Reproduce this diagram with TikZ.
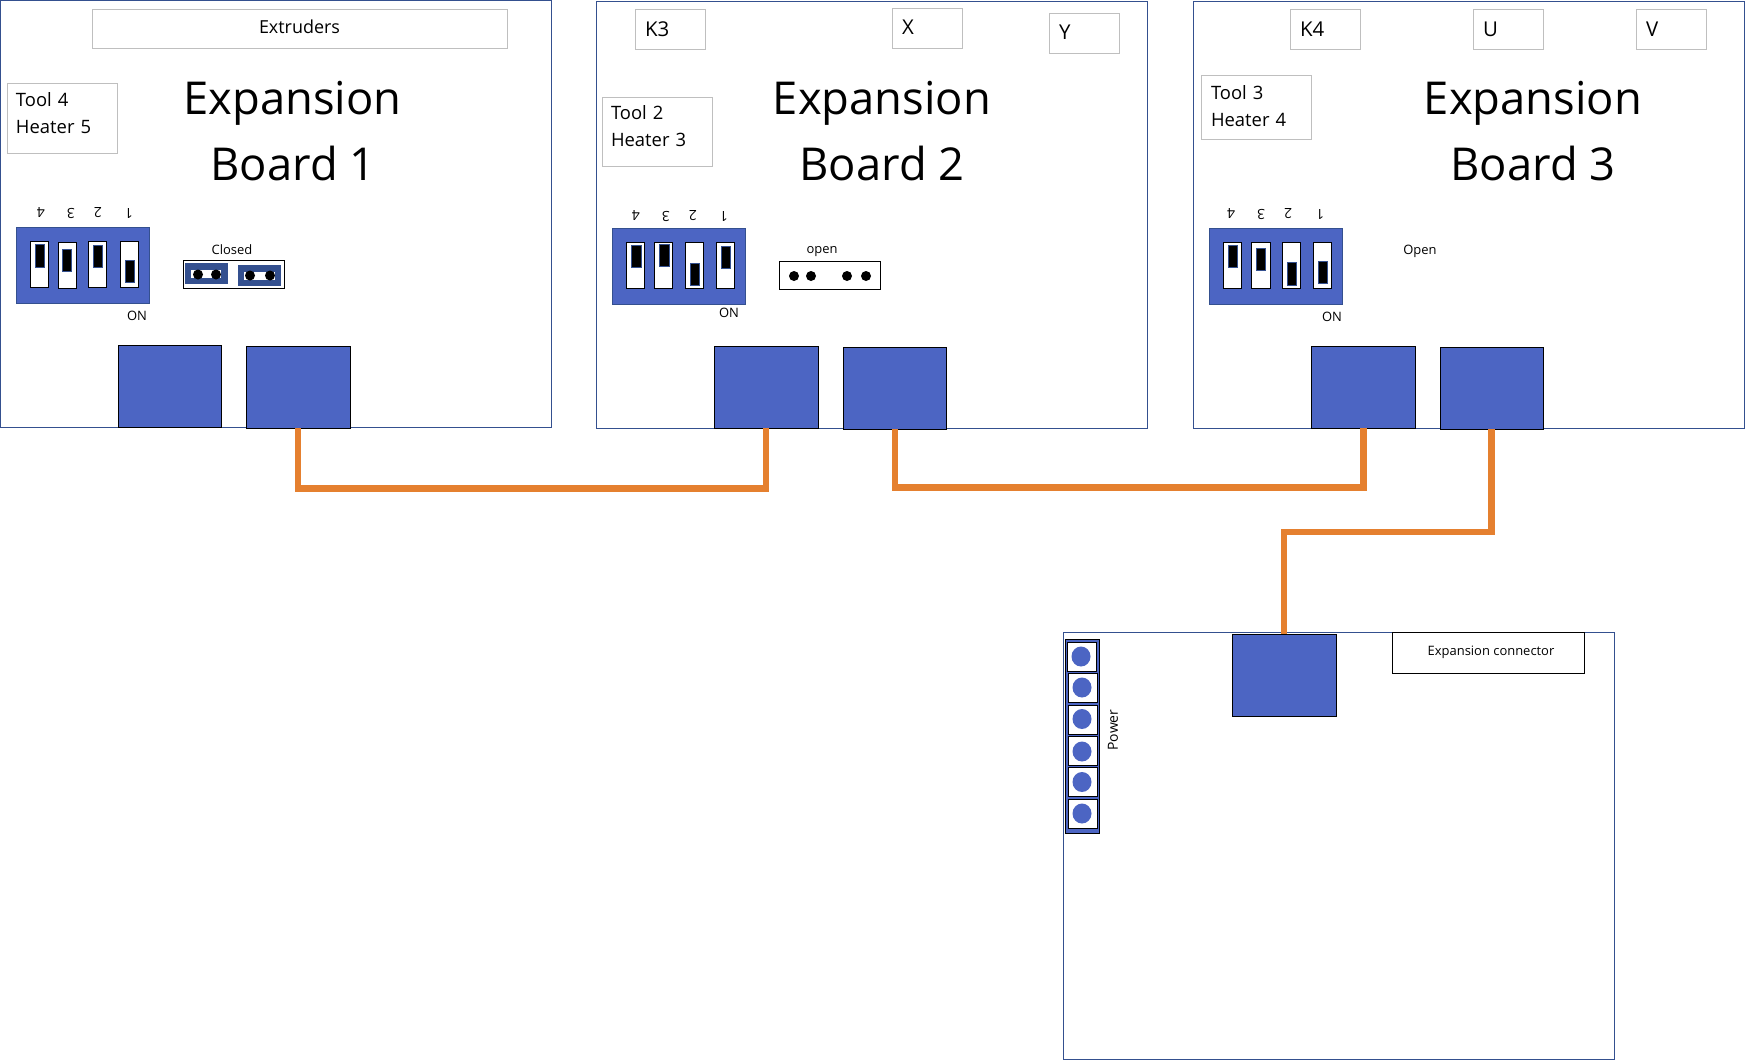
\documentclass[tikz,border=0pt]{standalone}
\usepackage{fontspec}
\setmainfont{Open Sans}
\definecolor{bl}{HTML}{4C65C3}
\definecolor{bd}{HTML}{34508F}
\definecolor{gy}{HTML}{BFBFBF}
\definecolor{org}{HTML}{E5802F}
\tikzset{
 board/.style={draw=bd,line width=0.9bp,fill=white},
 blue/.style={draw=black,line width=0.5bp,fill=bl,inner sep=0pt},
 dipbase/.style={draw=bd,line width=0.7bp,fill=bl},
 sw/.style={draw=black,line width=1bp,fill=white},
 knob/.style={draw=bd,line width=0.8bp,fill=black},
 lab/.style={draw=gy,line width=0.8bp,fill=white,inner sep=0pt},
 title/.style={font=\fontsize{45.5}{50}\selectfont,inner sep=0pt},
 tiny/.style={font=\fontsize{13}{15}\selectfont,inner sep=0pt},
 dgt/.style={font=\fontsize{14}{15}\selectfont,inner sep=0pt,rotate=180},
 mid/.style={font=\fontsize{20.5}{24}\selectfont,inner sep=0pt},
 toolt/.style={font=\fontsize{18.5}{27}\selectfont},
 wire/.style={draw=org,line width=6.5bp},
 pin/.style={circle,fill=black,inner sep=0pt,minimum size=10bp},
}
\begin{document}
\begin{tikzpicture}[x=1bp,y=-1bp]
\useasboundingbox (0,0) rectangle (1745,1061);
% boards
\draw[board] (0.5,0.5) rectangle (551,427);
\draw[board] (596,1) rectangle (1147,428);
\draw[board] (1193,1) rectangle (1744.5,428);
\draw[board] (1063,632.5) rectangle (1614,1059.5);
% connector blocks
\node[blue,minimum width=103bp,minimum height=82bp] (a1) at (169.5,386) {};
\node[blue,minimum width=104bp,minimum height=82bp] (a2) at (298,387) {};
\node[blue,minimum width=104bp,minimum height=82bp] (b1) at (766,387) {};
\node[blue,minimum width=103bp,minimum height=82bp] (b2) at (895,388) {};
\node[blue,minimum width=104bp,minimum height=82bp] (c1) at (1363.5,387) {};
\node[blue,minimum width=103bp,minimum height=82bp] (c2) at (1491.5,388) {};
\node[blue,minimum width=104bp,minimum height=82bp] (m1) at (1284,675.5) {};
\node[draw=black,line width=0.8bp,fill=white,minimum width=192bp,minimum height=41bp,inner sep=0pt] (ec) at (1488,653) {};
\node[tiny] (ect) at (1491,652.5) {Expansion connector};
% wires
\draw[wire] (a2.south) -- ++(0,60) -| (b1.south);
\draw[wire] (b2.south) -- ++(0,58) -| (c1.south);
\draw[wire] (c2.south) -- ++(0,102.5) -| (m1.north);
% labels
\node[lab,minimum width=415bp,minimum height=39bp] (exbox) at (299.5,28.5) {};
\node[inner sep=0pt,font=\fontsize{18}{20}\selectfont] (ex) at (299.5,27) {Extruders};
\node[lab,minimum width=70bp,minimum height=40bp,mid,text width=50bp,align=left] (k3) at (670,29) {K3};
\node[lab,minimum width=70bp,minimum height=40bp,mid,text width=50bp,align=left] (x) at (927,28) {\raisebox{1bp}{X}};
\node[lab,minimum width=70bp,minimum height=40bp,mid,text width=50bp,align=left] (y) at (1084,33) {\raisebox{1bp}{Y}};
\node[lab,minimum width=70bp,minimum height=40bp,mid,text width=50bp,align=left] (k4) at (1325,29) {K4};
\node[lab,minimum width=70bp,minimum height=40bp,mid,text width=50bp,align=left] (u) at (1508,29) {U};
\node[lab,minimum width=70bp,minimum height=40bp,mid,text width=50bp,align=left] (v) at (1671,29) {V};
\node[lab,minimum width=110bp,minimum height=70bp] (t4box) at (62,118) {};
\node[inner sep=0pt,toolt,text width=94bp,align=left] (t4) at (63,113.5) {Tool 4\\Heater 5};
\node[lab,minimum width=110bp,minimum height=69bp] (t2box) at (657,131.5) {};
\node[inner sep=0pt,toolt,text width=94bp,align=left] (t2) at (658,126.5) {Tool 2\\Heater 3};
\node[lab,minimum width=110bp,minimum height=64bp] (t3box) at (1256,107) {};
\node[inner sep=0pt,toolt,text width=92bp,align=left] (t3) at (1257,106.5) {Tool 3\\Heater 4};
% titles
\node[title] (e1) at (292.5,103) {Expansion};
\node[title] (n1) at (293,163) {Board 1};
\node[title] (e2) at (882,103) {Expansion};
\node[title] (n2) at (882,163) {Board 2};
\node[title] (e3) at (1533,103) {Expansion};
\node[title] (n3) at (1533,163) {Board 3};
% DIP 1
\draw[dipbase] (16,227) rectangle (149.5,303);
\draw[sw] (30,241) rectangle (48.5,287); \draw[knob] (35.5,244) rectangle (44.5,267);
\draw[sw] (58,242) rectangle (76.5,288); \draw[knob] (62,249) rectangle (71,271);
\draw[sw] (88,241) rectangle (106.5,287); \draw[knob] (93,245) rectangle (102,267);
\draw[sw] (120,241) rectangle (138.5,287); \draw[knob] (125,260) rectangle (134,282);
\node[dgt] (d14) at (41,213) {4};
\node[dgt] (d13) at (71,213) {3};
\node[dgt] (d12) at (98,213) {2};
\node[dgt] (d11) at (129,213) {1};
\node[tiny] (on1) at (137,315.5) {ON};
\node[tiny] (cl) at (232,250) {Closed};
\draw[draw=black,line width=0.8bp,fill=white] (183,260) rectangle (284,288);
\fill[bd] (185,263) rectangle (228,284);
\fill[bd] (238,265) rectangle (281,286);
\fill[white] (191,270) rectangle (221,278);
\fill[white] (244,271.5) rectangle (275,279.5);
\node[pin] (p1) at (198,274.5) {}; \node[pin] (p2) at (216,274.5) {};
\node[pin] (p3) at (250,275.5) {}; \node[pin] (p4) at (270,275.5) {};
% DIP 2
\draw[dipbase] (612,228) rectangle (745.5,304.5);
\draw[sw] (626,242) rectangle (644.5,288); \draw[knob] (631.5,245) rectangle (641,267);
\draw[sw] (654,242) rectangle (672.5,288); \draw[knob] (659.5,244) rectangle (669,266);
\draw[sw] (685.5,242) rectangle (703.5,288); \draw[knob] (690.5,263) rectangle (699.5,285);
\draw[sw] (716.5,242) rectangle (734.5,288); \draw[knob] (721.5,246) rectangle (730.5,268);
\node[dgt] (d24) at (636,216) {4};
\node[dgt] (d23) at (666,216) {3};
\node[dgt] (d22) at (693,216) {2};
\node[dgt] (d21) at (724,216) {1};
\node[tiny] (on2) at (729,312.5) {ON};
\node[tiny] (op) at (822,252) {open};
\draw[draw=black,line width=0.8bp,fill=white] (779,261) rectangle (880,289);
\node[pin] (q1) at (794,276) {}; \node[pin] (q2) at (811,276) {};
\node[pin] (q3) at (847,276) {}; \node[pin] (q4) at (866,276) {};
% DIP 3
\draw[dipbase] (1209,228) rectangle (1342.5,304.5);
\draw[sw] (1223.5,242) rectangle (1241.5,288); \draw[knob] (1228.5,245) rectangle (1237.5,267);
\draw[sw] (1251.5,242) rectangle (1270.5,288); \draw[knob] (1256.5,248) rectangle (1265,270);
\draw[sw] (1282.5,242) rectangle (1300.5,288); \draw[knob] (1287.5,262) rectangle (1296.5,285);
\draw[sw] (1313.5,242) rectangle (1331.5,288); \draw[knob] (1318.5,261) rectangle (1327.5,283);
\node[dgt] (d34) at (1231,214) {4};
\node[dgt] (d33) at (1261,214) {3};
\node[dgt] (d32) at (1288,214) {2};
\node[dgt] (d31) at (1320,214) {1};
\node[tiny] (on3) at (1332,316.5) {ON};
\node[tiny] (opn) at (1420,251) {Open};
% power
\draw[draw=black,line width=0.9bp,fill=bl] (1065.5,639) rectangle (1099.5,833.5);
\foreach \xa/\ya/\cy in {1067.5/642.5/656.5,1068.5/673.5/687.5,1068.5/705/719,1068.5/736.5/751.5,1068.5/767.5/782,1068.5/799.5/813.5}{
  \draw[draw=black,line width=1bp,fill=white] (\xa,\ya) rectangle ++(29,29);
  \fill[bl] (\xa+13.5,\cy) ellipse (9.5bp and 10bp);
}
\node[inner sep=0pt,rotate=90,font=\fontsize{14}{15}\selectfont] (pw) at (1113,730) {Power};
\end{tikzpicture}
\end{document}
